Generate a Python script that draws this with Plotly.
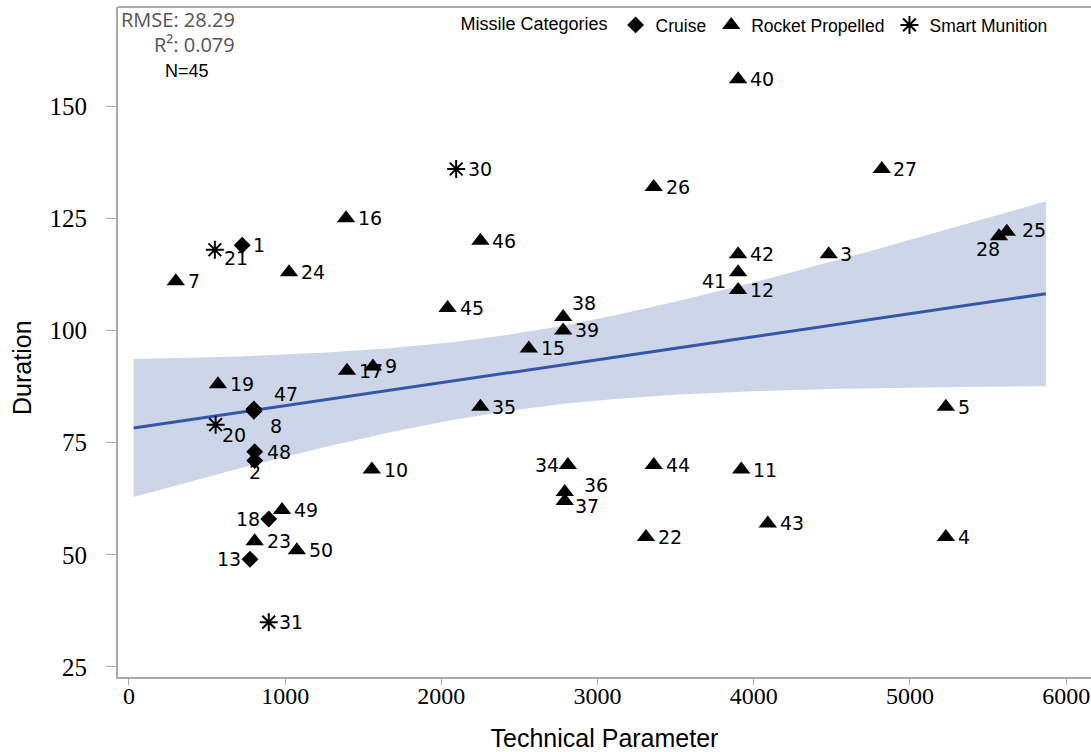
import numpy as np
import plotly.graph_objects as go

# ---- data ----
point_ids = [1, 2, 3, 4, 5, 7, 8, 9, 10, 11, 12, 13, 15, 16, 17, 18, 19, 20, 21, 22, 23,
             24, 25, 26, 27, 28, 30, 31, 34, 35, 36, 37, 38, 39, 40, 41, 42, 43, 44, 45,
             46, 47, 48, 49, 50]
tech_param = [725, 805, 4480, 5230, 5230, 300, 800, 1562, 1555, 3920, 3900, 775, 2560, 1390,
              1396, 895, 570, 555, 550, 3310, 805, 1025, 5620, 3360, 4820, 5570, 2095, 895,
              2810, 2250, 2790, 2790, 2780, 2780, 3900, 3900, 3900, 4090, 3360, 2040, 2250,
              800, 805, 980, 1075]
duration = [119, 71, 117, 54, 83, 111, 82, 92, 69, 69, 109, 49, 96, 125, 91, 58, 88, 79, 118,
            54, 53, 113, 122, 132, 136, 121, 136, 35, 70, 83, 64, 62, 103, 100, 156, 113, 117,
            57, 70, 105, 120, 82.5, 73, 60, 51]
category = ["Cruise", "Cruise", "Rocket Propelled", "Rocket Propelled", "Rocket Propelled",
            "Rocket Propelled", "Cruise", "Rocket Propelled", "Rocket Propelled",
            "Rocket Propelled", "Rocket Propelled", "Cruise", "Rocket Propelled",
            "Rocket Propelled", "Rocket Propelled", "Cruise", "Rocket Propelled",
            "Smart Munition", "Smart Munition", "Rocket Propelled", "Rocket Propelled",
            "Rocket Propelled", "Rocket Propelled", "Rocket Propelled", "Rocket Propelled",
            "Rocket Propelled", "Smart Munition", "Smart Munition", "Rocket Propelled",
            "Rocket Propelled", "Rocket Propelled", "Rocket Propelled", "Rocket Propelled",
            "Rocket Propelled", "Rocket Propelled", "Rocket Propelled", "Rocket Propelled",
            "Rocket Propelled", "Rocket Propelled", "Rocket Propelled", "Rocket Propelled",
            "Cruise", "Cruise", "Rocket Propelled", "Rocket Propelled"]
categories = ["Cruise", "Rocket Propelled", "Smart Munition"]
fit_x_range = [30, 5870]
x_ticks = [0, 1000, 2000, 3000, 4000, 5000, 6000]
y_ticks = [25, 50, 75, 100, 125, 150]

# ---- styles ----
symbols = {"Cruise": "diamond", "Rocket Propelled": "triangle-up", "Smart Munition": "asterisk-open"}
sizes = {"Cruise": 13, "Rocket Propelled": 16, "Smart Munition": 15}
# label placement: (anchor, x shift px, y shift px)
label_style = {21: ("left", 7, -8), 28: ("right", 3, -13), 41: ("right", -10, -9),
               47: ("left", 18, 15), 8: ("left", 14, -15), 20: ("left", 4, -10),
               2: ("center", 0, -11), 18: ("right", -7, 0), 13: ("right", -7, 0),
               34: ("right", -7, 0), 36: ("left", 17, 7), 37: ("left", 8, -5),
               38: ("left", 7, 14), 25: ("left", 13, 2), 31: ("left", 8, 0),
               1: ("left", 9, 0), 3: ("left", 9, 0), 27: ("left", 9, 0)}
default_label = ("left", 10, 0)

x = np.array(tech_param, float)
y = np.array(duration, float)
n = len(x)
b1, b0 = np.polyfit(x, y, 1)
res = y - (b0 + b1 * x)
s = np.sqrt(np.sum(res ** 2) / (n - 2))
xbar = x.mean()
sxx = np.sum((x - xbar) ** 2)
t_crit = 2.0167
xs = np.linspace(fit_x_range[0], fit_x_range[1], 200)
yfit = b0 + b1 * xs
half = t_crit * s * np.sqrt(1 / n + (xs - xbar) ** 2 / sxx)

fig = go.Figure()
fig.add_trace(go.Scatter(x=xs, y=yfit - half, mode="lines", line=dict(width=0),
                         showlegend=False, hoverinfo="skip"))
fig.add_trace(go.Scatter(x=xs, y=yfit + half, mode="lines", line=dict(width=0),
                         fill="tonexty", fillcolor="rgba(205,214,232,1)",
                         showlegend=False, hoverinfo="skip"))
fig.add_trace(go.Scatter(x=xs, y=yfit, mode="lines", line=dict(color="#3556a8", width=3),
                         showlegend=False, hoverinfo="skip"))

for cat in categories:
    idx = [i for i, c in enumerate(category) if c == cat]
    fig.add_trace(go.Scatter(
        x=[tech_param[i] for i in idx], y=[duration[i] for i in idx],
        mode="markers", name=cat,
        marker=dict(symbol=symbols[cat], size=sizes[cat], color="black",
                    line=dict(color="black", width=2 if cat == "Smart Munition" else 0)),
    ))

annotations = []
for pid, px_, py_ in zip(point_ids, tech_param, duration):
    anchor, dx, dy = label_style.get(pid, default_label)
    annotations.append(dict(text=str(pid), x=px_, y=py_, xref="x", yref="y",
                            xanchor=anchor, yanchor="middle", xshift=dx, yshift=dy,
                            showarrow=False,
                            font=dict(family="DejaVu Sans", size=19, color="black")))

annotations += [
    dict(text="RMSE: 28.29", xref="paper", yref="paper", x=0.1223, y=0.9806,
         xanchor="right", yanchor="middle", showarrow=False,
         font=dict(family="Open Sans", size=20, color="#555555")),
    dict(text="R²: 0.079", xref="paper", yref="paper", x=0.1223, y=0.9433,
         xanchor="right", yanchor="middle", showarrow=False,
         font=dict(family="Open Sans", size=20, color="#555555")),
    dict(text="N=45", xref="paper", yref="paper", x=0.0709, y=0.9045,
         xanchor="center", yanchor="middle", showarrow=False,
         font=dict(family="Liberation Sans", size=18, color="black")),
    dict(text="Duration", xref="paper", yref="paper", x=-0.0987, y=0.4627,
         xanchor="center", yanchor="middle", textangle=-90, showarrow=False,
         font=dict(family="Liberation Sans", size=25, color="black")),
]

fig.update_layout(
    width=1091, height=752,
    margin=dict(l=118, r=0, t=7, b=75),
    plot_bgcolor="white", paper_bgcolor="white",
    legend=dict(orientation="h", x=0.35, y=1.0, xanchor="left", yanchor="top",
                traceorder="normal",
                title=dict(text="Missile Categories", side="left",
                           font=dict(family="Liberation Sans", size=18, color="black")),
                font=dict(family="Liberation Sans", size=17.5, color="black"),
                bgcolor="rgba(0,0,0,0)"),
    xaxis=dict(range=[-70, 6159], tickvals=x_ticks, showgrid=False, zeroline=False,
               showline=True, linecolor="#aaaaaa", linewidth=2,
               ticks="outside", ticklen=6, tickcolor="#aaaaaa",
               ticklabeloverflow="allow", ticklabelstandoff=-10,
               tickfont=dict(family="Liberation Serif", size=24, color="black"),
               title=dict(text="Technical Parameter", standoff=24,
                          font=dict(family="Liberation Sans", size=25, color="black"))),
    yaxis=dict(range=[22.77, 172.1], tickvals=y_ticks, showgrid=False, zeroline=False,
               showline=True, linecolor="#aaaaaa", linewidth=2,
               ticks="outside", ticklen=10, tickcolor="#aaaaaa",
               ticklabelstandoff=14,
               tickfont=dict(family="Liberation Serif", size=25, color="black")),
    shapes=[dict(type="line", xref="paper", yref="paper", x0=0, x1=1, y0=1, y1=1,
                 line=dict(color="#aaaaaa", width=2))],
    annotations=annotations,
)

fig.write_html("out.html", config={"displayModeBar": False},
               post_script="document.body.style.margin='0';document.body.style.overflow='hidden';")
